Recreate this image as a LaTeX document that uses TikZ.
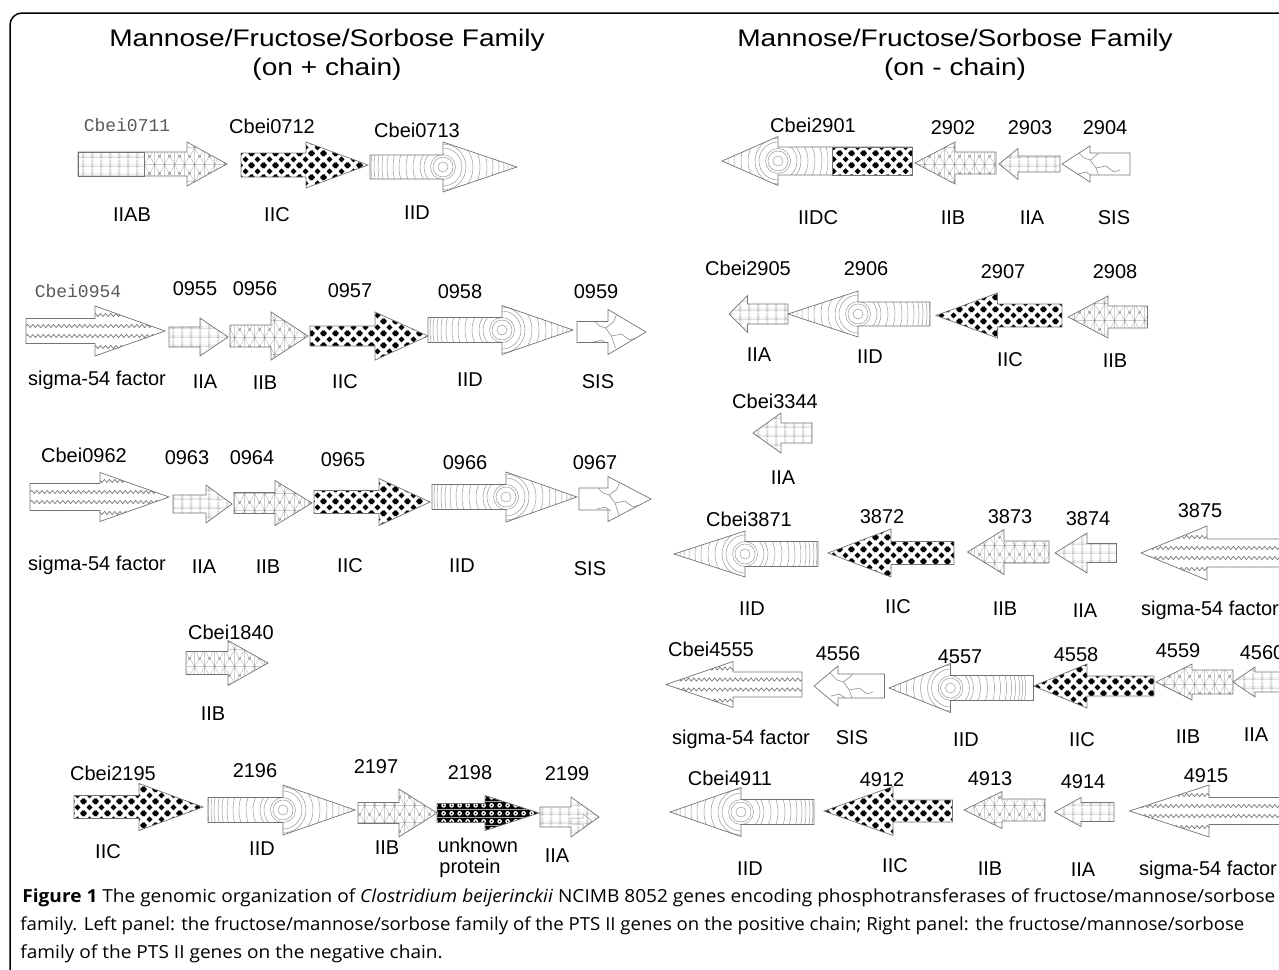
\documentclass[tikz,border=0pt]{standalone}
\usepackage{fontspec}
\setmainfont{Liberation Sans}
\newfontfamily\monofont{Liberation Mono}
\newfontfamily\capfont{Open Sans}
\usetikzlibrary{patterns.meta,decorations.pathmorphing}

% fill patterns of the domains
\tikzdeclarepattern{
  name=plaid, type=colored,
  bottom left={(0pt,0pt)}, top right={(4.5pt,4.5pt)}, tile size={(4.5pt,4.5pt)},
  code={
    \tikzset{x=1pt,y=1pt}
    \draw[black!35, line width=0.2pt] (0,0.7) -- (4.5,0.7) (0,1.6) -- (4.5,1.6)
      (0.7,0) -- (0.7,4.5) (1.6,0) -- (1.6,4.5);
  }
}
\tikzdeclarepattern{
  name=trilattice, type=colored,
  bottom left={(0pt,0pt)}, top right={(5pt,8.66pt)}, tile size={(5pt,8.66pt)},
  code={
    \tikzset{x=1pt,y=1pt}
    \draw[black!30, line width=0.2pt] (0,0) -- (5,8.66) (5,0) -- (0,8.66)
      (0,4.33) -- (5,4.33) (2.5,0) -- (2.5,8.66);
    \fill[black!45] (2.5,4.33) circle (0.5pt) (0,0) circle (0.5pt) (5,0) circle (0.5pt)
      (0,8.66) circle (0.5pt) (5,8.66) circle (0.5pt);
  }
}
\tikzdeclarepattern{
  name=diamonds, type=colored,
  bottom left={(0pt,0pt)}, top right={(6pt,6pt)}, tile size={(6pt,6pt)},
  code={
    \tikzset{x=1pt,y=1pt}
    \fill[black] (3,1.4) -- (4.6,3) -- (3,4.6) -- (1.4,3) -- cycle
      (0,-1.6) -- (1.6,0) -- (0,1.6) -- (-1.6,0) -- cycle
      (6,-1.6) -- (7.6,0) -- (6,1.6) -- (4.4,0) -- cycle
      (0,4.4) -- (1.6,6) -- (0,7.6) -- (-1.6,6) -- cycle
      (6,4.4) -- (7.6,6) -- (6,7.6) -- (4.4,6) -- cycle;
  }
}
\tikzdeclarepattern{
  name=ornate, type=colored,
  bottom left={(0pt,0pt)}, top right={(4pt,4pt)}, tile size={(4pt,4pt)},
  code={
    \tikzset{x=1pt,y=1pt}
    \fill[black] (0,0) rectangle (4,4);
    \fill[white] (2,2) circle (1.3pt);
    \fill[black] (2,2) circle (0.5pt);
  }
}

\newcommand{\capsize}{\capfont\fontsize{9}{11}\selectfont}
\newcommand{\capA}{\textbf{Figure 1} The genomic organization of \textit{Clostridium beijerinckii} NCIMB 8052 genes encoding phosphotransferases of fructose/mannose/sorbose}
\newcommand{\capB}{family. Left panel: the fructose/mannose/sorbose family of the PTS II genes on the positive chain; Right panel: the fructose/mannose/sorbose}
\newcommand{\capC}{family of the PTS II genes on the negative chain.}
\newlength{\capwd}

\tikzset{
  gene/.style={draw=black!55, line width=0.35pt},
  ringline/.style={draw=black!40, line width=0.25pt},
  crack/.style={draw=black!45, line width=0.3pt},
  waveline/.style={draw=black!60, line width=0.3pt, decorate,
    decoration={snake, segment length=2.6pt, amplitude=0.8pt}},
  ttl/.style={font=\fontsize{12}{14}\selectfont, xscale=1.17, inner sep=0pt,
    text height=8.6pt, text depth=0pt},
  lbl/.style={font=\fontsize{10}{12}\selectfont, inner sep=0pt, text height=7.2pt, text depth=0pt},
  oldlbl/.style={font=\monofont\fontsize{9}{11}\selectfont, text=black!65, inner sep=0pt,
    text height=5.4pt, text depth=0pt},
  capline/.style={anchor=base west, inner sep=0pt, font=\capsize},
  frame/.style={draw=black, line width=0.75pt, rounded corners=6pt}
}

% looks: body end, head base, tip, centre y, body half height, head half height
\newcommand{\lookiia}[6]{\fill[pattern=plaid] (#1,#4-#6) rectangle (#3,#4+#6);}
\newcommand{\lookiib}[6]{\fill[pattern=trilattice] (#1,#4-#6) rectangle (#3,#4+#6);}
\newcommand{\lookiic}[6]{\fill[pattern=diamonds] (#1,#4-#6) rectangle (#3,#4+#6);}
\newcommand{\lookunk}[6]{\fill[pattern=ornate] (#1,#4-#6) rectangle (#3,#4+#6);}
\newcommand{\lookiid}[6]{%
  \foreach \r in {5,10,12.5,19,23,30,37,44,50,56,61,65,69,72,75}
    \draw[ringline] (#2,#4) circle [radius=\r*0.5pt];}
\newcommand{\looksigma}[6]{%
  \foreach \k in {-16,-5,5,16} \draw[waveline] (#1,#4+\k) -- (#3,#4+\k);}
\newcommand{\looksis}[6]{%
  \begin{scope}[shift={({(#1+#3)/2},#4)}]
    \draw[crack] (-20,-14) -- (-12,-6) -- (-6,-4) -- (0,4) -- (4,16);
    \draw[crack] (-6,-4) -- (2,-10) -- (6,-20);
    \draw[crack] (0,4) -- (10,2) -- (18,8) -- (24,6);
    \draw[crack] (-18,10) -- (-10,8) -- (-4,12);
  \end{scope}}

% gene arrow: look, body end, head base, tip, centre y, body half height, head half height
\newcommand{\gene}[7]{%
  \begin{scope}
    \clip (#2,#5-#6) -- (#3,#5-#6) -- (#3,#5-#7) -- (#4,#5) -- (#3,#5+#7) -- (#3,#5+#6) -- (#2,#5+#6) -- cycle;
    \csname look#1\endcsname{#2}{#3}{#4}{#5}{#6}{#7}
  \end{scope}
  \draw[gene] (#2,#5-#6) -- (#3,#5-#6) -- (#3,#5-#7) -- (#4,#5) -- (#3,#5+#7) -- (#3,#5+#6) -- (#2,#5+#6) -- cycle;}

\begin{document}
\settowidth{\capwd}{\capsize\capA}%
\pgfmathsetmacro{\capsxA}{626.5/\capwd}%
\settowidth{\capwd}{\capsize\capB}%
\pgfmathsetmacro{\capsxB}{612/\capwd}%
\begin{tikzpicture}[x=0.5pt, y=-0.5pt]

    \useasboundingbox (0,0) rectangle (1279,969);

    % left panel, + chain
    \node[ttl] (ttlL) at (327,38) {Mannose/Fructose/Sorbose Family};
    \node[ttl] (subL) at (327,67) {(on + chain)};

    \gene{iib}{78}{187}{227}{164}{12}{22}
    \fill[white] (78,152) rectangle (144,176);
    \draw[gene, pattern=plaid] (78,152) rectangle (144,176);
    \gene{iic}{241}{306}{368}{165}{12}{23}
    \gene{iid}{370}{443}{517}{167}{12}{25}
    \node[oldlbl] (id0711) at (127,126) {Cbei0711};
    \node[lbl] (id0712) at (272,126) {Cbei0712};
    \node[lbl] (id0713) at (417,130) {Cbei0713};
    \node[lbl] (fn0711) at (132,214) {IIAB};
    \node[lbl] (fn0712) at (277,214) {IIC};
    \node[lbl] (fn0713) at (417,212) {IID};

    \gene{sigma}{26}{95}{165}{331}{12.5}{25}
    \gene{iia}{169}{200}{228}{337}{10}{19}
    \gene{iib}{230}{271}{308}{336}{11}{24}
    \gene{iic}{310}{375}{428}{336}{10}{24}
    \gene{iid}{428}{502}{573}{330}{12.5}{24.5}
    \gene{sis}{577}{608}{646}{332}{10.5}{22.5}
    \node[oldlbl] (id0954) at (78,292) {Cbei0954};
    \node[lbl] (id0955) at (195,288) {0955};
    \node[lbl] (id0956) at (255,288) {0956};
    \node[lbl] (id0957) at (350,290) {0957};
    \node[lbl] (id0958) at (460,291) {0958};
    \node[lbl] (id0959) at (596,291) {0959};
    \node[lbl] (fn0954) at (97,378) {sigma-54 factor};
    \node[lbl] (fn0955) at (205,381) {IIA};
    \node[lbl] (fn0956) at (265,382) {IIB};
    \node[lbl] (fn0957) at (345,381) {IIC};
    \node[lbl] (fn0958) at (470,379) {IID};
    \node[lbl] (fn0959) at (598,381) {SIS};

    \gene{sigma}{30}{100}{169}{497}{13.5}{24.5}
    \gene{iia}{173}{206}{232}{504}{9}{19}
    \gene{iib}{234}{275}{312}{503}{10.5}{22.5}
    \gene{iic}{314}{379}{430}{502}{11.5}{23.5}
    \gene{iid}{432}{506}{577}{497}{12.5}{25}
    \gene{sis}{579}{608}{651}{499}{11}{22.5}
    \node[lbl] (id0962) at (84,455) {Cbei0962};
    \node[lbl] (id0963) at (187,457) {0963};
    \node[lbl] (id0964) at (252,457) {0964};
    \node[lbl] (id0965) at (343,459) {0965};
    \node[lbl] (id0966) at (465,462) {0966};
    \node[lbl] (id0967) at (595,462) {0967};
    \node[lbl] (fn0962) at (97,563) {sigma-54 factor};
    \node[lbl] (fn0963) at (204,566) {IIA};
    \node[lbl] (fn0964) at (268,566) {IIB};
    \node[lbl] (fn0965) at (350,565) {IIC};
    \node[lbl] (fn0966) at (462,565) {IID};
    \node[lbl] (fn0967) at (590,568) {SIS};

    \gene{iib}{186}{228}{268}{663}{11.5}{22.5}
    \node[lbl] (id1840) at (231,632) {Cbei1840};
    \node[lbl] (fn1840) at (213,713) {IIB};

    \gene{iic}{74}{139}{203}{807}{11.5}{23.5}
    \gene{iid}{208}{283}{355}{810}{12.5}{25}
    \gene{iib}{358}{399}{437}{813}{10.5}{24}
    \gene{unk}{437}{485}{539}{813}{9.5}{17.5}
    \gene{iia}{540}{571}{599}{817}{10}{20}
    \draw[ringline] (571,818) -- (583,818) -- (583,814) -- (592,821) -- (583,828) -- (583,824) -- (571,824) -- cycle;
    \node[lbl] (id2195) at (113,773) {Cbei2195};
    \node[lbl] (id2196) at (255,770) {2196};
    \node[lbl] (id2197) at (376,766) {2197};
    \node[lbl] (id2198) at (470,772) {2198};
    \node[lbl] (id2199) at (567,773) {2199};
    \node[lbl] (fn2195) at (108,851) {IIC};
    \node[lbl] (fn2196) at (262,848) {IID};
    \node[lbl] (fn2197) at (387,847) {IIB};
    \node[lbl] (fn2198) at (478,845) {unknown};
    \node[lbl] (fn2198b) at (470,866) {protein};
    \node[lbl] (fn2199) at (557,855) {IIA};

    % right panel, - chain
    \node[ttl] (ttlR) at (955,38) {Mannose/Fructose/Sorbose Family};
    \node[ttl] (subR) at (955,67) {(on - chain)};

    \gene{iid}{912}{778}{722}{161}{14}{24.5}
    \fill[white] (832,147) rectangle (912,175);
    \draw[gene, pattern=diamonds] (832,147) rectangle (912,175);
    \gene{iib}{996}{955}{915}{163}{11}{21}
    \gene{iia}{1060}{1018}{999}{164}{8}{15.5}
    \gene{sis}{1130}{1090}{1062}{164}{11}{18}
    \node[lbl] (id2901) at (813,125) {Cbei2901};
    \node[lbl] (id2902) at (953,127) {2902};
    \node[lbl] (id2903) at (1030,127) {2903};
    \node[lbl] (id2904) at (1105,127) {2904};
    \node[lbl] (fn2901) at (818,217) {IIDC};
    \node[lbl] (fn2902) at (953,217) {IIB};
    \node[lbl] (fn2903) at (1032,217) {IIA};
    \node[lbl] (fn2904) at (1114,217) {SIS};

    \gene{iia}{788}{747.5}{729}{314}{10}{18.5}
    \gene{iid}{930}{858}{788}{314}{12}{23}
    \gene{iic}{1062}{997.5}{936}{315.5}{11.5}{22.5}
    \gene{iib}{1147.5}{1108}{1068}{317}{11}{21}
    \node[lbl] (id2905) at (748,268) {Cbei2905};
    \node[lbl] (id2906) at (866,268) {2906};
    \node[lbl] (id2907) at (1003,271) {2907};
    \node[lbl] (id2908) at (1115,271) {2908};
    \node[lbl] (fn2905) at (759,354) {IIA};
    \node[lbl] (fn2906) at (870,356) {IID};
    \node[lbl] (fn2907) at (1010,359) {IIC};
    \node[lbl] (fn2908) at (1115,360) {IIB};

    \gene{iia}{812}{781}{753}{433}{10}{20}
    \node[lbl] (id3344) at (775,401) {Cbei3344};
    \node[lbl] (fn3344) at (783,477) {IIA};

    \gene{iid}{818}{745}{674}{554}{12.5}{23}
    \gene{iic}{954}{891}{828}{553}{11.5}{24}
    \gene{iib}{1049}{1004}{967.5}{552}{11}{22.5}
    \gene{iia}{1116.5}{1087}{1055}{553}{9.5}{20}
    \gene{sigma}{1300}{1207}{1141}{553}{14}{27}
    \node[lbl] (id3871) at (749,519) {Cbei3871};
    \node[lbl] (id3872) at (882,516) {3872};
    \node[lbl] (id3873) at (1010,516) {3873};
    \node[lbl] (id3874) at (1088,518) {3874};
    \node[lbl] (id3875) at (1200,510) {3875};
    \node[lbl] (fn3871) at (752,608) {IID};
    \node[lbl] (fn3872) at (898,606) {IIC};
    \node[lbl] (fn3873) at (1005,608) {IIB};
    \node[lbl] (fn3874) at (1085,610) {IIA};
    \node[lbl] (fn3875) at (1210,608) {sigma-54 factor};

    \gene{sigma}{802}{733}{666}{684.5}{12.5}{23}
    \gene{sis}{884.5}{838}{814}{686}{12}{20}
    \gene{iid}{1033.5}{950.5}{889}{688}{12.5}{24.5}
    \gene{iic}{1154}{1087}{1033.5}{686}{10}{22}
    \gene{iib}{1233}{1192}{1156}{682}{12}{18}
    \gene{iia}{1300}{1255}{1233}{682}{10}{15}
    \node[lbl] (id4555) at (711,649) {Cbei4555};
    \node[lbl] (id4556) at (838,653) {4556};
    \node[lbl] (id4557) at (960,656) {4557};
    \node[lbl] (id4558) at (1076,654) {4558};
    \node[lbl] (id4559) at (1178,650) {4559};
    \node[lbl] (id4560) at (1262,652) {4560};
    \node[lbl] (fn4555) at (741,737) {sigma-54 factor};
    \node[lbl] (fn4556) at (852,737) {SIS};
    \node[lbl] (fn4557) at (966,739) {IID};
    \node[lbl] (fn4558) at (1082,739) {IIC};
    \node[lbl] (fn4559) at (1188,736) {IIB};
    \node[lbl] (fn4560) at (1256,734) {IIA};

    \gene{iid}{814}{741}{670}{812}{12.5}{24.5}
    \gene{iic}{952.5}{893}{824}{811}{11}{24.5}
    \gene{iib}{1045}{1002}{964}{810}{11}{18.5}
    \gene{iia}{1114}{1081}{1054.5}{812}{9.5}{14.5}
    \gene{sigma}{1300}{1209}{1129.5}{811}{13.5}{26}
    \node[lbl] (id4911) at (730,778) {Cbei4911};
    \node[lbl] (id4912) at (882,779) {4912};
    \node[lbl] (id4913) at (990,778) {4913};
    \node[lbl] (id4914) at (1083,781) {4914};
    \node[lbl] (id4915) at (1206,775) {4915};
    \node[lbl] (fn4911) at (750,868) {IID};
    \node[lbl] (fn4912) at (895,865) {IIC};
    \node[lbl] (fn4913) at (990,868) {IIB};
    \node[lbl] (fn4914) at (1083,869) {IIA};
    \node[lbl] (fn4915) at (1208,868) {sigma-54 factor};

    % caption and frame
    \node[capline] (cap1) at (22,902) {\scalebox{\capsxA}[1]{\capA}};
    \node[capline] (cap2) at (20,930) {\scalebox{\capsxB}[1]{\capB}};
    \node[capline] (cap3) at (20,958) {\scalebox{\capsxA}[1]{\capC}};

    \draw[frame] (10,980) -- (10,13) -- (1290,13);

\end{tikzpicture}
\end{document}
